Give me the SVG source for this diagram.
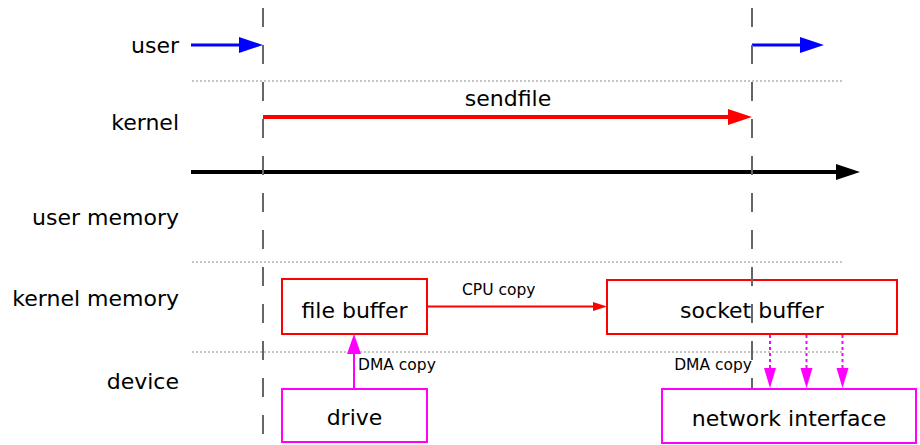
<svg xmlns="http://www.w3.org/2000/svg" width="920" height="445" viewBox="0 0 920 445">
  <style>
    .lbl { font-family: "DejaVu Sans", Verdana, sans-serif; font-size: 22px; fill: #000; }
    .lane { text-anchor: end; }
    .mid { text-anchor: middle; }
    .small { font-family: "DejaVu Sans", Verdana, sans-serif; font-size: 15.5px; fill: #000; }
    .sep { stroke: #8c8c8c; stroke-width: 1; stroke-dasharray: 2 2; fill: none; }
    .tick { stroke: #666; stroke-width: 2; stroke-dasharray: 19 18; fill: none; }
    .mem { fill: #fff; stroke: #ff0000; stroke-width: 2; }
    .dev { fill: #fff; stroke: #ff00ff; stroke-width: 2; }
    .blue { stroke: #0000ff; stroke-width: 3; fill: none; }
    .red { stroke: #ff0000; stroke-width: 4; fill: none; }
    .black { stroke: #000; stroke-width: 4; fill: none; }
    .cpu { stroke: #ff0000; stroke-width: 2; fill: none; }
    .dma { stroke: #ff00ff; stroke-width: 2; fill: none; }
    .dmadot { stroke: #ff00ff; stroke-width: 2; stroke-dasharray: 3 3; fill: none; }
  </style>

  <!-- lane labels -->
  <g id="lanes">
    <text class="lbl lane" x="179" y="53">user</text>
    <text class="lbl lane" x="179" y="130">kernel</text>
    <text class="lbl lane" x="179" y="225">user memory</text>
    <text class="lbl lane" x="179" y="306">kernel memory</text>
    <text class="lbl lane" x="179" y="389">device</text>
  </g>

  <!-- lane separators -->
  <g id="separators">
    <line class="sep" x1="192" y1="81" x2="843" y2="81"/>
    <line class="sep" x1="192" y1="262" x2="843" y2="262"/>
    <line class="sep" x1="192" y1="352" x2="843" y2="352"/>
  </g>

  <!-- nodes -->
  <g id="file-buffer">
    <rect class="mem" x="282" y="279" width="145" height="55"/>
    <text class="lbl mid" x="354.5" y="318">file buffer</text>
  </g>
  <g id="socket-buffer">
    <rect class="mem" x="607" y="280" width="290" height="54"/>
    <text class="lbl mid" x="752" y="318">socket buffer</text>
  </g>
  <g id="drive">
    <rect class="dev" x="282" y="389" width="145" height="53"/>
    <text class="lbl mid" x="354.5" y="425">drive</text>
  </g>

  <!-- connectors -->
  <g id="connectors">
    <!-- user-space calls -->
    <line class="blue" x1="191" y1="45" x2="241" y2="45"/>
    <polygon fill="#0000ff" points="239,37 263,45 239,53"/>
    <line class="blue" x1="752" y1="45" x2="802" y2="45"/>
    <polygon fill="#0000ff" points="800,37 824,45 800,53"/>

    <!-- sendfile -->
    <line class="red" x1="263" y1="117" x2="730" y2="117"/>
    <polygon fill="#ff0000" points="728,109 752,117 728,125"/>
    <text class="lbl mid" x="508" y="106">sendfile</text>

    <!-- time axis -->
    <line class="black" x1="191" y1="172" x2="838" y2="172"/>
    <polygon fill="#000" points="836,164 860,172 836,180"/>

    <!-- CPU copy -->
    <line class="cpu" x1="427" y1="306.5" x2="594" y2="306.5"/>
    <polygon fill="#ff0000" points="593,302 607,306.5 593,311"/>
    <text class="small" x="462" y="295">CPU copy</text>

    <!-- DMA copy: drive to file buffer -->
    <line class="dma" x1="354" y1="389" x2="354" y2="352"/>
    <polygon fill="#ff00ff" points="347,354 354,334 361,354"/>
    <text class="small" x="358" y="370">DMA copy</text>

    <!-- DMA copy: socket buffer to network interface -->
    <line class="dmadot" x1="770" y1="335" x2="770" y2="369"/>
    <polygon fill="#ff00ff" points="764,368 770,388 776,368"/>
    <line class="dmadot" x1="806.5" y1="335" x2="806.5" y2="369"/>
    <polygon fill="#ff00ff" points="800.5,368 806.5,388 812.5,368"/>
    <line class="dmadot" x1="842.5" y1="335" x2="842.5" y2="369"/>
    <polygon fill="#ff00ff" points="836.5,368 842.5,388 848.5,368"/>
    <text class="small" x="752" y="370" text-anchor="end">DMA copy</text>
  </g>

  <!-- mode-switch markers -->
  <g id="switches">
    <line class="tick" x1="263" y1="8" x2="263" y2="445"/>
    <line class="tick" x1="752" y1="8" x2="752" y2="445"/>
  </g>

  <!-- drawn last so it hides the marker line behind it -->
  <g id="network-interface">
    <rect class="dev" x="662" y="389" width="254" height="54"/>
    <text class="lbl mid" x="789" y="426">network interface</text>
  </g>
</svg>
